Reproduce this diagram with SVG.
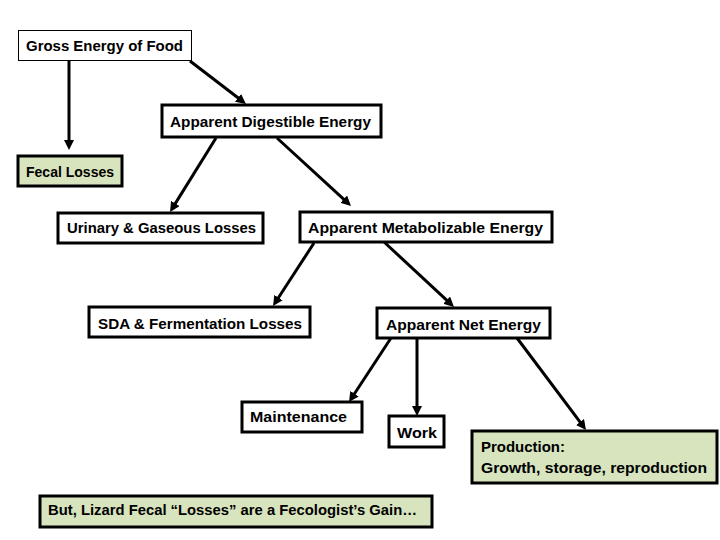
<svg xmlns="http://www.w3.org/2000/svg" width="720" height="540" viewBox="0 0 720 540">
<style>
.box{fill:#ffffff;stroke:#000000;stroke-width:3}
.thin{stroke-width:1}
.green{fill:#d7e4bd}
.t{font-family:"Liberation Sans",Arial,sans-serif;font-weight:bold;font-size:15px;fill:#000000}
.c line{stroke:#000000;stroke-width:3;marker-end:url(#ah)}
</style>
<defs>
<marker id="ah" markerUnits="userSpaceOnUse" markerWidth="10" markerHeight="10" refX="4" refY="5" orient="auto">
<path d="M0,0 L10,5 L0,10 z" fill="#000000"/>
</marker>
</defs>
<rect width="720" height="540" fill="#ffffff"/>
<g id="connectors" class="c">
<line x1="69" y1="61" x2="69" y2="144"/>
<line x1="190" y1="61" x2="241.2" y2="100.3"/>
<line x1="216" y1="138" x2="173.2" y2="206.9"/>
<line x1="277" y1="138" x2="346.6" y2="201.9"/>
<line x1="314" y1="243" x2="276.3" y2="301"/>
<line x1="383" y1="241" x2="449.6" y2="302.9"/>
<line x1="391" y1="338" x2="352.3" y2="397"/>
<line x1="417" y1="338" x2="417" y2="410"/>
<line x1="517" y1="338" x2="582.4" y2="425.2"/>
</g>
<g id="gross">
<rect class="box thin" x="18.5" y="30.5" width="173" height="30"/>
<text class="t" x="26" y="51" textLength="157" lengthAdjust="spacingAndGlyphs">Gross Energy of Food</text>
</g>
<g id="digestible">
<rect class="box" x="162" y="105" width="219" height="32"/>
<text class="t" x="170" y="127" textLength="201" lengthAdjust="spacingAndGlyphs">Apparent Digestible Energy</text>
</g>
<g id="fecal">
<rect class="box green" x="18" y="156" width="104" height="30"/>
<text class="t" x="26" y="177" textLength="88" lengthAdjust="spacingAndGlyphs">Fecal Losses</text>
</g>
<g id="urinary">
<rect class="box" x="58" y="213" width="205" height="30"/>
<text class="t" x="67" y="233" textLength="189" lengthAdjust="spacingAndGlyphs">Urinary &amp; Gaseous Losses</text>
</g>
<g id="metabolizable">
<rect class="box" x="300" y="212" width="252" height="30"/>
<text class="t" x="308" y="233" textLength="235" lengthAdjust="spacingAndGlyphs">Apparent Metabolizable Energy</text>
</g>
<g id="sda">
<rect class="box" x="89" y="307" width="221" height="30"/>
<text class="t" x="98" y="329" textLength="204" lengthAdjust="spacingAndGlyphs">SDA &amp; Fermentation Losses</text>
</g>
<g id="net">
<rect class="box" x="377" y="308" width="173" height="30"/>
<text class="t" x="386" y="330" textLength="155" lengthAdjust="spacingAndGlyphs">Apparent Net Energy</text>
</g>
<g id="maintenance">
<rect class="box" x="242" y="402" width="120" height="30"/>
<text class="t" x="250" y="422" textLength="97" lengthAdjust="spacingAndGlyphs">Maintenance</text>
</g>
<g id="work">
<rect class="box" x="389" y="416" width="55" height="31"/>
<text class="t" x="397" y="438" textLength="40" lengthAdjust="spacingAndGlyphs">Work</text>
</g>
<g id="production">
<rect class="box green" x="472" y="431" width="245" height="52"/>
<text class="t" x="481" y="452" textLength="84" lengthAdjust="spacingAndGlyphs">Production:</text>
<text class="t" x="481" y="473" textLength="226" lengthAdjust="spacingAndGlyphs">Growth, storage, reproduction</text>
</g>
<g id="note">
<rect class="box green" x="40" y="496" width="392" height="31"/>
<text class="t" x="48" y="515" textLength="369" lengthAdjust="spacingAndGlyphs">But, Lizard Fecal “Losses” are a Fecologist’s Gain…</text>
</g>
</svg>
